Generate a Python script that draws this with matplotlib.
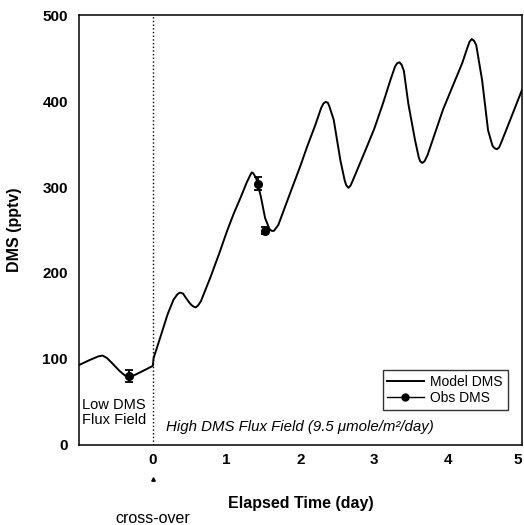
import matplotlib
matplotlib.use("Agg")
import matplotlib.pyplot as plt
import matplotlib.transforms as mtransforms

plt.rcParams["font.family"] = ["Liberation Sans", "DejaVu Sans"]

# model DMS curve (day, pptv)
model_t = [-1.00, -0.85, -0.74, -0.68, -0.62, -0.55, -0.45, -0.38, -0.34, -0.28,
           -0.16, 0.00, 0.01, 0.10, 0.20, 0.28, 0.33, 0.36, 0.38, 0.41,
           0.44, 0.49, 0.52, 0.55, 0.58, 0.61, 0.65, 0.78, 0.90, 1.01,
           1.10, 1.19, 1.27, 1.32, 1.34, 1.36, 1.40, 1.46, 1.52, 1.58,
           1.61, 1.64, 1.70, 1.86, 2.00, 2.09, 2.20, 2.28, 2.31, 2.34,
           2.37, 2.39, 2.45, 2.54, 2.60, 2.62, 2.65, 2.68, 2.72, 2.90,
           3.00, 3.12, 3.22, 3.28, 3.31, 3.34, 3.37, 3.40, 3.46, 3.55,
           3.60, 3.62, 3.65, 3.68, 3.72, 3.93, 4.05, 4.19, 4.26, 4.29,
           4.32, 4.35, 4.38, 4.46, 4.54, 4.60, 4.63, 4.66, 4.69, 4.72,
           4.84, 5.00]
model_dms = [93, 99, 103, 104, 101, 95, 86, 81, 79, 80,
             85, 92, 101, 125, 152, 169, 175, 177, 177, 176,
             172, 166, 163, 161, 160, 162, 167, 195, 223, 250,
             270, 288, 305, 314, 317, 316, 310, 290, 264, 251,
             249, 249, 256, 293, 325, 347, 372, 392, 397, 399,
             398, 394, 378, 331, 307, 302, 299, 302, 310, 347,
             368, 398, 425, 440, 444, 445, 442, 435, 397, 355,
             335, 330, 328, 330, 337, 390, 415, 444, 462, 469,
             472, 470, 465, 424, 366, 348, 345, 344, 346, 352,
             378, 413]

# observations
obs_t = [-0.32, 1.42, 1.52]
obs_dms = [80, 304, 249]
obs_err = [7, 8, 4]

x_ticks = [0, 1, 2, 3, 4, 5]
y_ticks = [0, 100, 200, 300, 400, 500]

fig = plt.figure(figsize=(5.24, 5.25), dpi=100)
ax = fig.add_axes([0.1508, 0.1524, 0.8454, 0.819])

ax.plot(model_t, model_dms, color="black", lw=1.4, label="Model DMS")
ax.errorbar(obs_t, obs_dms, yerr=obs_err, fmt="o", color="black", ms=5.5,
            capsize=3, elinewidth=1.3, capthick=1.3)
# legend handle: line with marker
ax.plot([], [], color="black", lw=1.0, marker="o", ms=5, label="Obs DMS")

ax.axvline(0, color="black", ls=":", lw=1.0)

ax.set_xlim(-1, 5)
ax.set_ylim(0, 500)
ax.set_xticks(x_ticks)
ax.set_yticks(y_ticks)
ax.tick_params(length=0, labelsize=11)
ax.tick_params(axis="x", pad=6)
ax.tick_params(axis="y", pad=8)
for lab in ax.get_xticklabels() + ax.get_yticklabels():
    lab.set_fontweight("bold")
# last tick label sits at the figure edge, keep it inside
ax.get_xticklabels()[-1].set_ha("right")
for s in ax.spines.values():
    s.set_linewidth(1.1)

ax.set_xlabel("Elapsed Time (day)", fontsize=11.5, fontweight="bold")
ax.xaxis.label.set_va("center")
ax.xaxis.set_label_coords(0.5, -0.135)
ax.set_ylabel("DMS (pptv)", fontsize=11.5, fontweight="bold")
ax.yaxis.set_label_coords(-0.129, 0.5)

ax.text(-0.96, 38, "Low DMS\nFlux Field", fontsize=10.5, ha="left", va="center",
        linespacing=1.1)
ax.text(0.18, 16, "High DMS Flux Field (9.5 \u03bcmole/m\u00b2/day)", fontsize=10.8,
        style="italic", ha="left", va="baseline")

trans = mtransforms.blended_transform_factory(ax.transData, ax.transAxes)
ax.plot([0], [-0.078], transform=trans, marker="^", ms=2.5, color="black",
        clip_on=False)
ax.text(0, -0.172, "cross-over", transform=trans, fontsize=11.5, ha="center",
        va="center")

leg = ax.legend(loc="lower right", bbox_to_anchor=(0.968, 0.081), fontsize=10,
                frameon=True, fancybox=False, edgecolor="black",
                handlelength=2.6, borderpad=0.35, labelspacing=0.15,
                handletextpad=0.5, borderaxespad=0)
leg.get_frame().set_linewidth(1.0)

fig.savefig("out.png", dpi=100)
